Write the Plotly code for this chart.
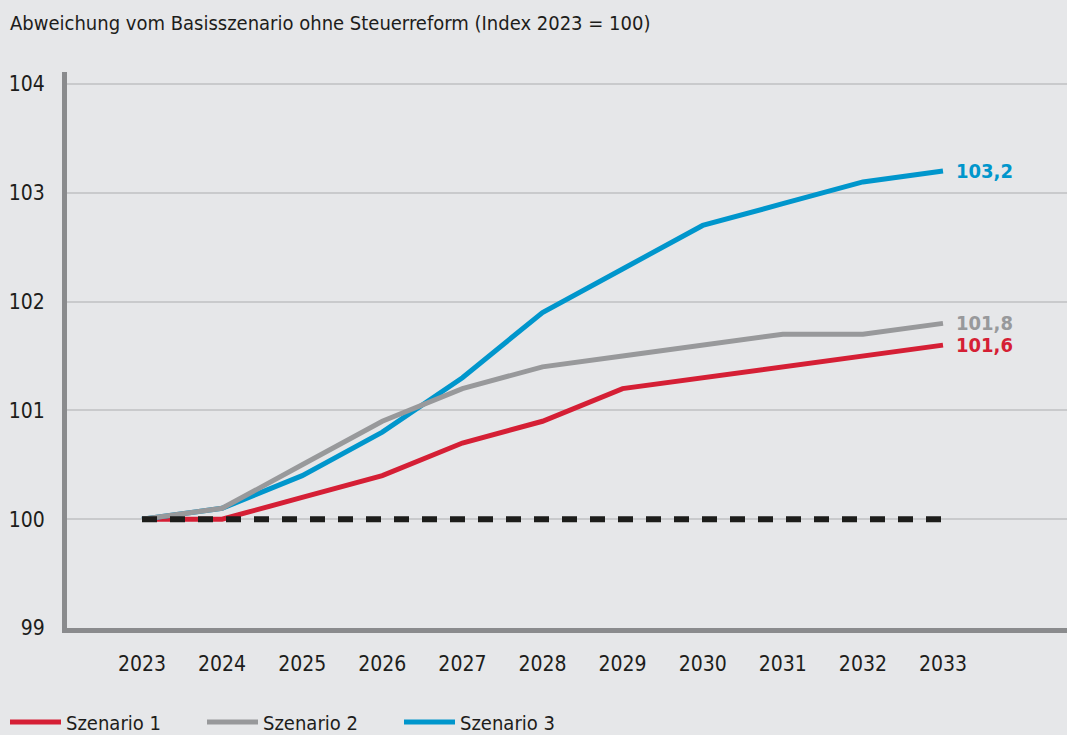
import plotly.graph_objects as go

years = [2023, 2024, 2025, 2026, 2027, 2028, 2029, 2030, 2031, 2032, 2033]
szenario1 = [100.0, 100.0, 100.2, 100.4, 100.7, 100.9, 101.2, 101.3, 101.4, 101.5, 101.6]
szenario2 = [100.0, 100.1, 100.5, 100.9, 101.2, 101.4, 101.5, 101.6, 101.7, 101.7, 101.8]
szenario3 = [100.0, 100.1, 100.4, 100.8, 101.3, 101.9, 102.3, 102.7, 102.9, 103.1, 103.2]
basis = [100.0] * len(years)
names = ["Szenario 1", "Szenario 2", "Szenario 3"]
end_labels = ["101,6", "101,8", "103,2"]
title_text = "Abweichung vom Basisszenario ohne Steuerreform (Index 2023 = 100)"

RED = "#d51f35"
GRAY = "#98999b"
BLUE = "#0096cc"
BG = "#e6e7e9"
FONT = "DejaVu Sans Condensed, Open Sans, sans-serif"

W, H = 1067, 735
L_PX, T_PX, B_PX = 67, 72, 628

fig = go.Figure()
series = [szenario1, szenario2, szenario3]
colors = [RED, GRAY, BLUE]

fig.add_trace(go.Scatter(x=years, y=szenario1, mode="lines", name=names[0],
                         line=dict(color=RED, width=5), legendrank=1))
fig.add_trace(go.Scatter(x=years, y=szenario3, mode="lines", name=names[2],
                         line=dict(color=BLUE, width=5), legendrank=3))
fig.add_trace(go.Scatter(x=years, y=szenario2, mode="lines", name=names[1],
                         line=dict(color=GRAY, width=5), legendrank=2))
fig.add_trace(go.Scatter(x=years, y=basis, mode="lines", showlegend=False,
                         line=dict(color="#1d1d1b", width=6, dash="15px,13px")))

for vals, col, lab in zip(series, colors, end_labels):
    fig.add_annotation(x=years[-1], y=vals[-1], text=f"<b>{lab}</b>", showarrow=False,
                       xanchor="left", yanchor="middle", xshift=11,
                       font=dict(family=FONT, size=20, color=col))

plot_h = B_PX - T_PX
fig.add_annotation(xref="paper", yref="paper", x=8 / W, y=1 + (T_PX - 23) / plot_h,
                   text=title_text, showarrow=False, xanchor="left", yanchor="middle",
                   font=dict(family=FONT, size=20, color="#1d1d1b"))

# y range: 104 at pixel 84, 99 at plot bottom
px_per_unit = (B_PX - 84) / 5.0
y_top = 104 + (84 - T_PX) / px_per_unit
# x range: 2023 at pixel 142, 2033 at 943
px_per_year = (943 - 142) / 10.0
x_left = 2023 - (142 - L_PX) / px_per_year
x_right = 2033 + (W - 943) / px_per_year

fig.update_layout(
    width=W, height=H,
    margin=dict(l=0, r=0, t=T_PX, b=H - B_PX, autoexpand=False),
    paper_bgcolor=BG, plot_bgcolor=BG,
    font=dict(family=FONT, size=21, color="#1d1d1b"),
    showlegend=True,
    legend=dict(orientation="h", xref="container", yref="container",
                x=5 / W, xanchor="left", y=1 - 722 / H,
                yanchor="middle", font=dict(family=FONT, size=20, color="#1d1d1b"),
                traceorder="normal", entrywidth=131, entrywidthmode="pixels",
                itemwidth=51, bgcolor="rgba(0,0,0,0)"),
    xaxis=dict(domain=[L_PX / W, 1], range=[x_left, x_right], tickmode="array",
               tickvals=years, ticktext=[str(y) for y in years], showgrid=False,
               zeroline=False, showline=True, linecolor="#8a8b8d", linewidth=5,
               ticks="outside", ticklen=13, tickcolor="rgba(0,0,0,0)", fixedrange=True,
               tickfont=dict(size=21)),
    yaxis=dict(range=[99, y_top], tickvals=[99, 100, 101, 102, 103, 104],
               showgrid=True, gridcolor="#c9cacc", gridwidth=2, zeroline=False,
               showline=True, linecolor="#8a8b8d", linewidth=5,
               ticks="outside", ticklen=13, tickcolor="rgba(0,0,0,0)", fixedrange=True,
               tickfont=dict(size=21)),
)

fig.write_html("out.html", config={"displayModeBar": False},
               post_script="document.body.style.margin='0';")
